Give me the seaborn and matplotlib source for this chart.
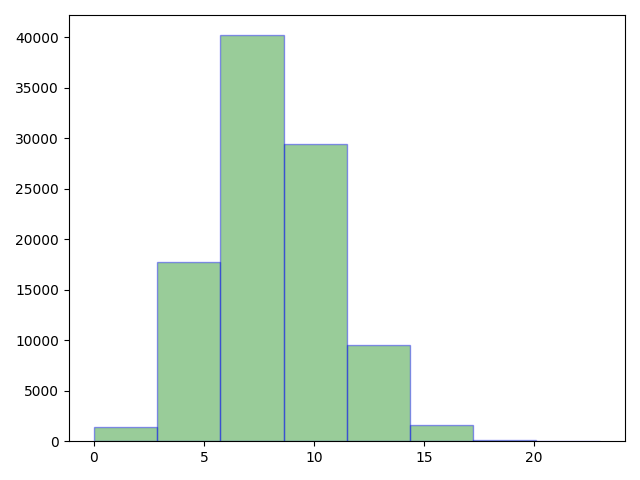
import matplotlib
matplotlib.use("Agg")
import matplotlib.pyplot as plt
import seaborn as sns
import numpy as np

bin_edges = [0, 2.875, 5.75, 8.625, 11.5, 14.375, 17.25, 20.125, 23]
counts = [1390, 17750, 40200, 29450, 9520, 1590, 130, 5]

centers = [(a + b) / 2 for a, b in zip(bin_edges[:-1], bin_edges[1:])]

fig, ax = plt.subplots(figsize=(6.4, 4.8), dpi=100)
sns.histplot(x=centers, weights=counts, bins=bin_edges, ax=ax,
             color="green", alpha=0.4, edgecolor=(0, 0, 1, 0.4),
             linewidth=1.0, element="bars", fill=True)
ax.set_xlabel("")
ax.set_ylabel("")
ax.set_xlim(-1.15, 24.15)
ax.set_ylim(0, 40200 * 1.05)
fig.tight_layout()
fig.savefig("out.png", dpi=100)
